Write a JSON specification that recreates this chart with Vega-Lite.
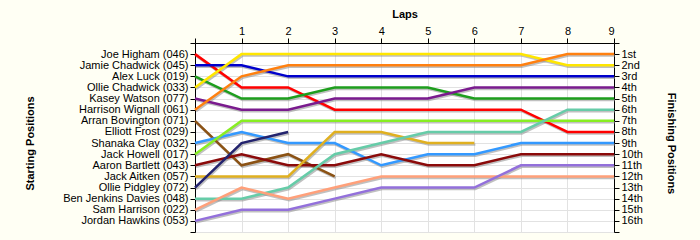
{
  "$schema": "https://vega.github.io/schema/vega-lite/v6.json",
  "width": 419,
  "height": 189,
  "autosize": "none",
  "padding": {"left": 195, "top": 43, "right": 86, "bottom": 8},
  "background": "#FFFFF4",
  "config": {
    "view": {"stroke": null, "fill": "#FFFFFF"},
    "axis": {
      "labelFont": "Liberation Sans",
      "labelFontSize": 11,
      "labelColor": "#000000",
      "titleFont": "Liberation Sans",
      "titleFontSize": 11,
      "titleFontWeight": "bold",
      "titleColor": "#000000",
      "domainColor": "#000000",
      "domainWidth": 1,
      "tickColor": "#000000",
      "tickSize": 5,
      "gridColor": "#E2E2E2",
      "gridWidth": 1
    }
  },
  "data": {
    "values": [
      {"driver": "Joe Higham", "lap": 0, "pos": 1}, {"driver": "Joe Higham", "lap": 1, "pos": 4}, {"driver": "Joe Higham", "lap": 2, "pos": 4}, {"driver": "Joe Higham", "lap": 3, "pos": 6}, {"driver": "Joe Higham", "lap": 4, "pos": 6}, {"driver": "Joe Higham", "lap": 5, "pos": 6}, {"driver": "Joe Higham", "lap": 6, "pos": 6}, {"driver": "Joe Higham", "lap": 7, "pos": 6}, {"driver": "Joe Higham", "lap": 8, "pos": 8}, {"driver": "Joe Higham", "lap": 9, "pos": 8},
      {"driver": "Jamie Chadwick", "lap": 0, "pos": 2}, {"driver": "Jamie Chadwick", "lap": 1, "pos": 2}, {"driver": "Jamie Chadwick", "lap": 2, "pos": 3}, {"driver": "Jamie Chadwick", "lap": 3, "pos": 3}, {"driver": "Jamie Chadwick", "lap": 4, "pos": 3}, {"driver": "Jamie Chadwick", "lap": 5, "pos": 3}, {"driver": "Jamie Chadwick", "lap": 6, "pos": 3}, {"driver": "Jamie Chadwick", "lap": 7, "pos": 3}, {"driver": "Jamie Chadwick", "lap": 8, "pos": 3}, {"driver": "Jamie Chadwick", "lap": 9, "pos": 3},
      {"driver": "Alex Luck", "lap": 0, "pos": 3}, {"driver": "Alex Luck", "lap": 1, "pos": 5}, {"driver": "Alex Luck", "lap": 2, "pos": 5}, {"driver": "Alex Luck", "lap": 3, "pos": 4}, {"driver": "Alex Luck", "lap": 4, "pos": 4}, {"driver": "Alex Luck", "lap": 5, "pos": 4}, {"driver": "Alex Luck", "lap": 6, "pos": 5}, {"driver": "Alex Luck", "lap": 7, "pos": 5}, {"driver": "Alex Luck", "lap": 8, "pos": 5}, {"driver": "Alex Luck", "lap": 9, "pos": 5},
      {"driver": "Ollie Chadwick", "lap": 0, "pos": 4}, {"driver": "Ollie Chadwick", "lap": 1, "pos": 1}, {"driver": "Ollie Chadwick", "lap": 2, "pos": 1}, {"driver": "Ollie Chadwick", "lap": 3, "pos": 1}, {"driver": "Ollie Chadwick", "lap": 4, "pos": 1}, {"driver": "Ollie Chadwick", "lap": 5, "pos": 1}, {"driver": "Ollie Chadwick", "lap": 6, "pos": 1}, {"driver": "Ollie Chadwick", "lap": 7, "pos": 1}, {"driver": "Ollie Chadwick", "lap": 8, "pos": 2}, {"driver": "Ollie Chadwick", "lap": 9, "pos": 2},
      {"driver": "Kasey Watson", "lap": 0, "pos": 5}, {"driver": "Kasey Watson", "lap": 1, "pos": 6}, {"driver": "Kasey Watson", "lap": 2, "pos": 6}, {"driver": "Kasey Watson", "lap": 3, "pos": 5}, {"driver": "Kasey Watson", "lap": 4, "pos": 5}, {"driver": "Kasey Watson", "lap": 5, "pos": 5}, {"driver": "Kasey Watson", "lap": 6, "pos": 4}, {"driver": "Kasey Watson", "lap": 7, "pos": 4}, {"driver": "Kasey Watson", "lap": 8, "pos": 4}, {"driver": "Kasey Watson", "lap": 9, "pos": 4},
      {"driver": "Harrison Wignall", "lap": 0, "pos": 6}, {"driver": "Harrison Wignall", "lap": 1, "pos": 3}, {"driver": "Harrison Wignall", "lap": 2, "pos": 2}, {"driver": "Harrison Wignall", "lap": 3, "pos": 2}, {"driver": "Harrison Wignall", "lap": 4, "pos": 2}, {"driver": "Harrison Wignall", "lap": 5, "pos": 2}, {"driver": "Harrison Wignall", "lap": 6, "pos": 2}, {"driver": "Harrison Wignall", "lap": 7, "pos": 2}, {"driver": "Harrison Wignall", "lap": 8, "pos": 1}, {"driver": "Harrison Wignall", "lap": 9, "pos": 1},
      {"driver": "Arran Bovington", "lap": 0, "pos": 7}, {"driver": "Arran Bovington", "lap": 1, "pos": 11}, {"driver": "Arran Bovington", "lap": 2, "pos": 10}, {"driver": "Arran Bovington", "lap": 3, "pos": 12},
      {"driver": "Shanaka Clay", "lap": 0, "pos": 9}, {"driver": "Shanaka Clay", "lap": 1, "pos": 8}, {"driver": "Shanaka Clay", "lap": 2, "pos": 9}, {"driver": "Shanaka Clay", "lap": 3, "pos": 9}, {"driver": "Shanaka Clay", "lap": 4, "pos": 11}, {"driver": "Shanaka Clay", "lap": 5, "pos": 10}, {"driver": "Shanaka Clay", "lap": 6, "pos": 10}, {"driver": "Shanaka Clay", "lap": 7, "pos": 9}, {"driver": "Shanaka Clay", "lap": 8, "pos": 9}, {"driver": "Shanaka Clay", "lap": 9, "pos": 9},
      {"driver": "Jack Howell", "lap": 0, "pos": 10}, {"driver": "Jack Howell", "lap": 1, "pos": 7}, {"driver": "Jack Howell", "lap": 2, "pos": 7}, {"driver": "Jack Howell", "lap": 3, "pos": 7}, {"driver": "Jack Howell", "lap": 4, "pos": 7}, {"driver": "Jack Howell", "lap": 5, "pos": 7}, {"driver": "Jack Howell", "lap": 6, "pos": 7}, {"driver": "Jack Howell", "lap": 7, "pos": 7}, {"driver": "Jack Howell", "lap": 8, "pos": 7}, {"driver": "Jack Howell", "lap": 9, "pos": 7},
      {"driver": "Aaron Bartlett", "lap": 0, "pos": 11}, {"driver": "Aaron Bartlett", "lap": 1, "pos": 10}, {"driver": "Aaron Bartlett", "lap": 2, "pos": 11}, {"driver": "Aaron Bartlett", "lap": 3, "pos": 11}, {"driver": "Aaron Bartlett", "lap": 4, "pos": 10}, {"driver": "Aaron Bartlett", "lap": 5, "pos": 11}, {"driver": "Aaron Bartlett", "lap": 6, "pos": 11}, {"driver": "Aaron Bartlett", "lap": 7, "pos": 10}, {"driver": "Aaron Bartlett", "lap": 8, "pos": 10}, {"driver": "Aaron Bartlett", "lap": 9, "pos": 10},
      {"driver": "Jack Aitken", "lap": 0, "pos": 12}, {"driver": "Jack Aitken", "lap": 1, "pos": 12}, {"driver": "Jack Aitken", "lap": 2, "pos": 12}, {"driver": "Jack Aitken", "lap": 3, "pos": 8}, {"driver": "Jack Aitken", "lap": 4, "pos": 8}, {"driver": "Jack Aitken", "lap": 5, "pos": 9}, {"driver": "Jack Aitken", "lap": 6, "pos": 9},
      {"driver": "Ollie Pidgley", "lap": 0, "pos": 13}, {"driver": "Ollie Pidgley", "lap": 1, "pos": 9}, {"driver": "Ollie Pidgley", "lap": 2, "pos": 8},
      {"driver": "Ben Jenkins Davies", "lap": 0, "pos": 14}, {"driver": "Ben Jenkins Davies", "lap": 1, "pos": 14}, {"driver": "Ben Jenkins Davies", "lap": 2, "pos": 13}, {"driver": "Ben Jenkins Davies", "lap": 3, "pos": 10}, {"driver": "Ben Jenkins Davies", "lap": 4, "pos": 9}, {"driver": "Ben Jenkins Davies", "lap": 5, "pos": 8}, {"driver": "Ben Jenkins Davies", "lap": 6, "pos": 8}, {"driver": "Ben Jenkins Davies", "lap": 7, "pos": 8}, {"driver": "Ben Jenkins Davies", "lap": 8, "pos": 6}, {"driver": "Ben Jenkins Davies", "lap": 9, "pos": 6},
      {"driver": "Sam Harrison", "lap": 0, "pos": 15}, {"driver": "Sam Harrison", "lap": 1, "pos": 13}, {"driver": "Sam Harrison", "lap": 2, "pos": 14}, {"driver": "Sam Harrison", "lap": 3, "pos": 13}, {"driver": "Sam Harrison", "lap": 4, "pos": 12}, {"driver": "Sam Harrison", "lap": 5, "pos": 12}, {"driver": "Sam Harrison", "lap": 6, "pos": 12}, {"driver": "Sam Harrison", "lap": 7, "pos": 12}, {"driver": "Sam Harrison", "lap": 8, "pos": 12}, {"driver": "Sam Harrison", "lap": 9, "pos": 12},
      {"driver": "Jordan Hawkins", "lap": 0, "pos": 16}, {"driver": "Jordan Hawkins", "lap": 1, "pos": 15}, {"driver": "Jordan Hawkins", "lap": 2, "pos": 15}, {"driver": "Jordan Hawkins", "lap": 3, "pos": 14}, {"driver": "Jordan Hawkins", "lap": 4, "pos": 13}, {"driver": "Jordan Hawkins", "lap": 5, "pos": 13}, {"driver": "Jordan Hawkins", "lap": 6, "pos": 13}, {"driver": "Jordan Hawkins", "lap": 7, "pos": 11}, {"driver": "Jordan Hawkins", "lap": 8, "pos": 11}, {"driver": "Jordan Hawkins", "lap": 9, "pos": 11}
    ]
  },
  "resolve": {"axis": {"y": "independent"}},
  "layer": [
    {
      "mark": {"type": "line", "color": "#8C8C8C", "opacity": 0.55, "strokeWidth": 2.5, "xOffset": 1, "yOffset": 1.5},
      "encoding": {
        "detail": {"field": "driver"},
        "order": {"field": "lap"},
        "x": {
          "field": "lap", "type": "quantitative",
          "scale": {"domain": [0, 9], "nice": false, "zero": false},
          "axis": {"orient": "top", "title": "Laps", "values": [0,1,2,3,4,5,6,7,8,9], "labelExpr": "datum.value == 0 ? '' : datum.label", "titlePadding": 6, "labelPadding": 2, "grid": true}
        },
        "y": {
          "field": "pos", "type": "quantitative",
          "scale": {"domain": [0, 17], "reverse": true, "nice": false, "zero": false},
          "axis": {
            "orient": "left", "title": "Starting Positions", "grid": true,
            "values": [0,1,2,3,4,5,6,7,8,9,10,11,12,13,14,15,16,17],
            "labelExpr": "['', 'Joe Higham (046)', 'Jamie Chadwick (045)', 'Alex Luck (019)', 'Ollie Chadwick (033)', 'Kasey Watson (077)', 'Harrison Wignall (061)', 'Arran Bovington (071)', 'Elliott Frost (029)', 'Shanaka Clay (032)', 'Jack Howell (017)', 'Aaron Bartlett (043)', 'Jack Aitken (057)', 'Ollie Pidgley (072)', 'Ben Jenkins Davies (048)', 'Sam Harrison (022)', 'Jordan Hawkins (053)', ''][datum.value]",
            "labelPadding": 2,
            "titleAngle": -90, "titleX": -165, "titleY": 100, "titleAlign": "center", "titleBaseline": "middle"
          }
        }
      }
    },
    {
      "mark": {"type": "line", "strokeWidth": 2.5},
      "encoding": {
        "order": {"field": "lap"},
        "x": {
          "field": "lap", "type": "quantitative",
          "scale": {"domain": [0, 9], "nice": false, "zero": false},
          "axis": {"orient": "top", "title": "Laps", "values": [0,1,2,3,4,5,6,7,8,9], "labelExpr": "datum.value == 0 ? '' : datum.label", "titlePadding": 6, "labelPadding": 2, "grid": true}
        },
        "y": {
          "field": "pos", "type": "quantitative",
          "scale": {"domain": [0, 17], "reverse": true, "nice": false, "zero": false},
          "axis": {
            "orient": "right", "title": "Finishing Positions", "grid": false,
            "values": [0,1,2,3,4,5,6,7,8,9,10,11,12,13,14,15,16,17],
            "labelExpr": "datum.value == 0 || datum.value == 17 ? '' : datum.value == 1 ? '1st' : datum.value == 2 ? '2nd' : datum.value == 3 ? '3rd' : datum.value + 'th'",
            "labelPadding": 2,
            "titleAngle": 90, "titleX": 56, "titleY": 100, "titleAlign": "center", "titleBaseline": "middle"
          }
        },
        "color": {
          "field": "driver", "type": "nominal", "legend": null,
          "scale": {
            "domain": ["Joe Higham", "Jamie Chadwick", "Alex Luck", "Ollie Chadwick", "Kasey Watson", "Harrison Wignall", "Arran Bovington", "Shanaka Clay", "Jack Howell", "Aaron Bartlett", "Jack Aitken", "Ollie Pidgley", "Ben Jenkins Davies", "Sam Harrison", "Jordan Hawkins"],
            "range": ["#FF0000", "#0000CC", "#1E9E1E", "#FFE600", "#7A1B8E", "#FF8010", "#8B5214", "#3399FF", "#88EE22", "#8B0A0A", "#E0B020", "#23236E", "#66CCA8", "#FFA07A", "#9370DB"]
          }
        }
      }
    }
  ]
}
